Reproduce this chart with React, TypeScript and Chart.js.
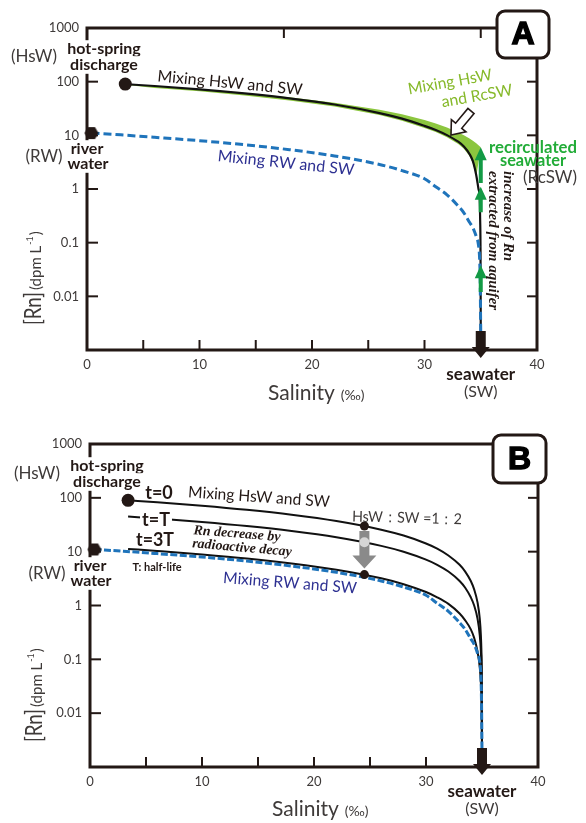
import React, { useEffect, useRef } from 'react';
import { Chart, registerables } from 'chart.js';
Chart.register(...registerables);

// ---------------- data ----------------
const xTickValues = [0, 5, 10, 15, 20, 25, 30, 35, 40];
const yTickValues = [1000, 100, 10, 1, 0.1, 0.01];
const yTickLabels = ['1000', '100', '10', '1', '0.1', '0.01'];
const topTickSalinity = [17.5, 35];

// end members
const hswSalinity = [3.4];
const hswRn = [90];
const rwSalinity = [0.4];
const rwRn = [11];

// mixing HsW and SW
const mixHsWSalinity = [3.4, 6, 10, 14, 18, 22, 26, 28, 30, 31, 32, 33, 33.5, 34, 34.3, 34.6, 34.8, 34.9, 34.95, 34.98, 35];
// panel A curve
const mixHsWRnA = [90, 83, 72, 60.5, 49, 37.5, 26, 20.5, 15, 12.6, 10.1, 7.6, 6.2, 4.5, 3.3, 1.8, 1.0, 0.7, 0.25, 0.07, 0.002];
// panel B: t = 0
const mixHsWRn = [90, 82.6, 71.2, 59.8, 48.4, 37, 25.6, 19.9, 14.2, 11.4, 8.5, 5.7, 4.27, 2.85, 1.99, 1.14, 0.57, 0.28, 0.14, 0.057, 0.002];
// t = T
const mixHalfRn = [45, 41.3, 35.6, 29.9, 24.2, 18.5, 12.8, 9.95, 7.1, 5.7, 4.27, 2.85, 2.14, 1.42, 1.0, 0.57, 0.28, 0.14, 0.07, 0.028, 0.002];
// t = 3T
const mixEighthRn = [11.25, 10.3, 8.9, 7.5, 6.05, 4.63, 3.2, 2.49, 1.78, 1.42, 1.07, 0.71, 0.53, 0.36, 0.25, 0.14, 0.071, 0.036, 0.018, 0.007, 0.002];

// mixing RW and SW
const mixRWSalinity = [0.4, 3, 6, 10, 14, 18, 22, 26, 28, 30, 31, 32, 33, 33.5, 34, 34.3, 34.6, 34.8, 34.9, 34.95, 35];
const mixRWRn = [11, 10.2, 9.2, 7.95, 6.68, 5.4, 4.13, 2.86, 2.2, 1.55, 1.1, 0.78, 0.48, 0.36, 0.24, 0.19, 0.13, 0.09, 0.05, 0.02, 0.002];

// band: mixing HsW and RcSW
const bandUpperSalinity = [3.4, 6, 10, 14, 18, 22, 26, 28, 30, 31, 32, 33, 33.5, 34, 34.3, 34.6, 35];
const bandUpperRn = [90, 83.1, 72.5, 61.8, 51.2, 40.6, 29.9, 24.6, 19.3, 16.6, 14.0, 11.3, 10.0, 8.7, 7.9, 7.1, 6.0];
const bandLowerSalinity = [34.6, 34.3, 34, 33.5, 33, 32, 31, 30, 28, 26, 22, 18, 14, 10, 6, 3.4];
const bandLowerRn = [1.7, 3.0, 4.1, 5.6, 6.9, 9.2, 11.5, 13.7, 18.7, 23.8, 34.3, 44.8, 55.3, 66, 76, 88];

// green arrows (Rn increase near seawater), ranges in dpm/L
const rcswArrowSalinity = 35;
const rcswArrowFrom = [1.3, 0.37, 0.012];
const rcswArrowTo = [6, 1.1, 0.038];

// HsW : SW = 1 : 2
const ratioSalinity = [24.5];
const ratioRnT0 = [30];
const ratioRnT = [15];
const ratioRn3T = [3.75];

const seawaterSalinity = 35;

// ---------------- styles ----------------
const W = 586;
const HA = 410;
const HB = 413;
const AX = '#231815';
const TXT = '#3e3a39';
const BLUE = '#1f74bb';
const NAVY = '#2e3192';
const GREEN_FILL = '#8cc63f';
const GREEN_TXT = '#86b92a';
const GREEN_BRIGHT = '#22ac38';
const GREEN_ARROW = '#139a45';
const FONT = 'Lato, "Open Sans", "Noto Sans", sans-serif';
const SERIF = '"Liberation Serif", "DejaVu Serif", serif';

const pts = (xs: number[], ys: number[]) => xs.map((x, i) => ({ x, y: ys[i] }));

type TO = { size: number; weight?: string; style?: string; family?: string; color?: string; align?: CanvasTextAlign; rot?: number; maxW?: number; bg?: boolean };
function text(ctx: CanvasRenderingContext2D, s: string, x: number, y: number, o: TO) {
  ctx.save();
  ctx.translate(x, y);
  if (o.rot) ctx.rotate((o.rot * Math.PI) / 180);
  ctx.font = `${o.style || 'normal'} ${o.weight || 'normal'} ${o.size}px ${o.family || FONT}`;
  ctx.textAlign = o.align || 'center';
  ctx.textBaseline = 'middle';
  let w = ctx.measureText(s).width;
  if (o.maxW && w > o.maxW) w = o.maxW;
  if (o.bg) {
    const x0 = ctx.textAlign === 'center' ? -w / 2 : ctx.textAlign === 'left' ? 0 : -w;
    ctx.fillStyle = '#fff';
    ctx.fillRect(x0 - 2, -o.size * 0.55, w + 4, o.size * 1.1);
  }
  ctx.fillStyle = o.color || TXT;
  if (o.maxW) ctx.fillText(s, 0, 0, o.maxW);
  else ctx.fillText(s, 0, 0);
  ctx.restore();
}

function arrow(ctx: CanvasRenderingContext2D, x1: number, y1: number, x2: number, y2: number, sw: number, hw: number, hl: number, fill: string, stroke?: string, lw = 1.5) {
  const a = Math.atan2(y2 - y1, x2 - x1);
  const L = Math.hypot(x2 - x1, y2 - y1);
  ctx.save();
  ctx.translate(x1, y1);
  ctx.rotate(a);
  ctx.beginPath();
  ctx.moveTo(0, -sw / 2);
  ctx.lineTo(L - hl, -sw / 2);
  ctx.lineTo(L - hl, -hw / 2);
  ctx.lineTo(L, 0);
  ctx.lineTo(L - hl, hw / 2);
  ctx.lineTo(L - hl, sw / 2);
  ctx.lineTo(0, sw / 2);
  ctx.closePath();
  ctx.fillStyle = fill;
  ctx.fill();
  if (stroke) {
    ctx.strokeStyle = stroke;
    ctx.lineWidth = lw;
    ctx.lineJoin = 'miter';
    ctx.stroke();
  }
  ctx.restore();
}

function yTitle(ctx: CanvasRenderingContext2D, x: number, y: number) {
  ctx.save();
  ctx.translate(x, y);
  ctx.rotate(-Math.PI / 2);
  ctx.textAlign = 'left';
  ctx.textBaseline = 'alphabetic';
  ctx.fillStyle = TXT;
  ctx.font = `23px ${FONT}`;
  ctx.fillText('[Rn]', 0, 0, 33);
  let cx = Math.min(ctx.measureText('[Rn]').width, 33) + 2;
  ctx.font = `15px ${FONT}`;
  ctx.fillText('(dpm L', cx, 0, 64);
  cx += Math.min(ctx.measureText('(dpm L').width, 64) + 1;
  ctx.font = `9px ${FONT}`;
  ctx.fillText('-1', cx, -8);
  cx += ctx.measureText('-1').width + 1;
  ctx.font = `15px ${FONT}`;
  ctx.fillText(')', cx, 0);
  ctx.restore();
}

function salinityTitle(ctx: CanvasRenderingContext2D, x: number, baseY: number) {
  ctx.save();
  ctx.textAlign = 'left';
  ctx.textBaseline = 'alphabetic';
  ctx.fillStyle = TXT;
  ctx.font = `21px ${FONT}`;
  ctx.fillText('Salinity', x, baseY, 71);
  const w = Math.min(ctx.measureText('Salinity').width, 71);
  ctx.font = `14px ${FONT}`;
  ctx.fillText('(‰)', x + w + 6, baseY, 29);
  ctx.restore();
}

function downArrow(ctx: CanvasRenderingContext2D, x: number, top: number, tip: number) {
  arrow(ctx, x, top, x, tip, 10, 18, 11, AX);
}

function makeHexagon(r: number, color: string) {
  const c = document.createElement('canvas');
  const s = Math.ceil(r * 2 + 2);
  c.width = s;
  c.height = s;
  const g = c.getContext('2d')!;
  g.fillStyle = color;
  g.beginPath();
  for (let i = 0; i < 6; i++) {
    const a = (i * Math.PI) / 3;
    const px = s / 2 + r * Math.cos(a);
    const py = s / 2 + r * Math.sin(a);
    if (i === 0) g.moveTo(px, py);
    else g.lineTo(px, py);
  }
  g.closePath();
  g.fill();
  return c;
}

type Area = { left: number; top: number; right: number; bottom: number; h: number };
type PanelCfg = {
  area: Area;
  letter: string;
  box: [number, number, number, number];
  topTicks: number[];
  extra: (ctx: CanvasRenderingContext2D, chart: any, px: (v: number) => number, py: (v: number) => number) => void;
  beforeDataset?: (ctx: CanvasRenderingContext2D, chart: any, label: string, px: (v: number) => number, py: (v: number) => number) => void;
};

function line(ctx: CanvasRenderingContext2D, x1: number, y1: number, x2: number, y2: number) {
  ctx.beginPath();
  ctx.moveTo(x1, y1);
  ctx.lineTo(x2, y2);
  ctx.stroke();
}

function panelPlugin(cfg: PanelCfg) {
  const getPx = (chart: any) => (v: number) => chart.scales.x.getPixelForValue(v);
  const getPy = (chart: any) => (v: number) => chart.scales.y.getPixelForValue(v);
  return {
    id: 'panel' + cfg.letter,
    beforeDatasetsDraw(chart: any) {
      const ctx = chart.ctx as CanvasRenderingContext2D;
      const { left, right, top, bottom } = chart.chartArea;
      const px = getPx(chart);
      const py = getPy(chart);
      ctx.save();
      ctx.strokeStyle = AX;
      ctx.lineWidth = 3;
      ctx.lineCap = 'square';
      ctx.beginPath();
      ctx.moveTo(left, top);
      ctx.lineTo(left, bottom);
      ctx.lineTo(right, bottom);
      ctx.lineTo(right, top);
      ctx.closePath();
      ctx.stroke();
      ctx.lineCap = 'butt';
      ctx.lineWidth = 2;
      for (const v of yTickValues) {
        if (v >= 1000) continue;
        const y = py(v);
        line(ctx, left, y, left + 11, y);
        line(ctx, right - 10, y, right, y);
      }
      for (const v of xTickValues) {
        if (v <= 0 || v >= 40) continue;
        const x = px(v);
        line(ctx, x, bottom, x, bottom - 10);
      }
      for (const v of cfg.topTicks) {
        const x = px(v);
        line(ctx, x, top, x, top + 10);
      }
      ctx.restore();
    },
    beforeDatasetDraw(chart: any, args: any) {
      if (!cfg.beforeDataset) return;
      const label = chart.data.datasets[args.index].label;
      cfg.beforeDataset(chart.ctx, chart, label, getPx(chart), getPy(chart));
    },
    afterDatasetsDraw(chart: any) {
      const ctx = chart.ctx as CanvasRenderingContext2D;
      const px = getPx(chart);
      const py = getPy(chart);
      ctx.save();
      cfg.extra(ctx, chart, px, py);
      // letter box
      const [bx, by, bw, bh] = cfg.box;
      ctx.beginPath();
      (ctx as any).roundRect(bx, by, bw, bh, 8);
      ctx.fillStyle = '#fff';
      ctx.fill();
      ctx.strokeStyle = AX;
      ctx.lineWidth = 3;
      ctx.stroke();
      ctx.font = `bold 32px "Liberation Sans", Arial, sans-serif`;
      ctx.textAlign = 'center';
      ctx.textBaseline = 'middle';
      ctx.fillStyle = '#000';
      ctx.strokeStyle = '#000';
      ctx.lineWidth = 1.4;
      ctx.fillText(cfg.letter, bx + bw / 2, by + bh / 2 + 1);
      ctx.strokeText(cfg.letter, bx + bw / 2, by + bh / 2 + 1);
      ctx.restore();
    },
  };
}

function scalesFor(area: Area) {
  return {
    x: {
      type: 'linear',
      min: 0,
      max: 40,
      afterBuildTicks: (s: any) => {
        s.ticks = xTickValues.map((v) => ({ value: v }));
      },
      afterFit: (s: any) => {
        s.height = area.h - area.bottom;
      },
      ticks: {
        autoSkip: false,
        maxRotation: 0,
        padding: 7,
        color: TXT,
        font: { family: FONT, size: 13 },
        callback: (v: number) => (v % 10 === 0 ? String(v) : ''),
      },
      grid: { display: false, drawTicks: false },
      border: { display: false },
    },
    y: {
      type: 'logarithmic',
      min: 0.001,
      max: 1000,
      afterBuildTicks: (s: any) => {
        s.ticks = yTickValues.map((v) => ({ value: v }));
      },
      afterFit: (s: any) => {
        s.width = area.left;
      },
      ticks: {
        autoSkip: false,
        padding: 8,
        color: TXT,
        font: { family: FONT, size: 13 },
        callback: (v: number) => {
          const i = yTickValues.indexOf(v);
          return i >= 0 ? yTickLabels[i] : '';
        },
      },
      grid: { display: false, drawTicks: false },
      border: { display: false },
    },
  };
}

function baseOptions(area: Area) {
  return {
    responsive: false,
    animation: false,
    devicePixelRatio: 1,
    events: [],
    layout: { autoPadding: false, padding: { left: 0, top: area.top, right: W - area.right, bottom: 0 } },
    plugins: { legend: { display: false }, tooltip: { enabled: false } },
    scales: scalesFor(area),
  };
}

function curve(label: string, data: any[], color: string, width: number, order: number, dash?: number[]) {
  return {
    label,
    data,
    borderColor: color,
    borderWidth: width,
    borderDash: dash || [],
    pointRadius: 0,
    cubicInterpolationMode: 'monotone',
    fill: false,
    order,
  };
}

function dot(label: string, data: any[], color: string, r: number, order: number, style?: any) {
  return {
    label,
    data,
    showLine: false,
    pointRadius: r,
    pointStyle: style || 'circle',
    pointBackgroundColor: color,
    pointBorderColor: color,
    pointBorderWidth: 0,
    clip: false,
    order,
  };
}

function endMemberLabels(ctx: CanvasRenderingContext2D, dx: number, dy: number) {
  text(ctx, '(HsW)', 34 + dx, 57 + dy, { size: 17, maxW: 46 });
  text(ctx, 'hot-spring', 104 + dx, 49 + dy, { size: 16, weight: 'bold', color: AX, maxW: 76, bg: true });
  text(ctx, 'discharge', 104 + dx, 65 + dy, { size: 16, weight: 'bold', color: AX, maxW: 71, bg: true });
  text(ctx, '(RW)', 44 + dx, 157 + dy, { size: 17, maxW: 37 });
  text(ctx, 'river', 87 + dx, 149 + dy, { size: 16, weight: 'bold', color: AX, maxW: 36, bg: true });
  text(ctx, 'water', 88 + dx, 164 + dy, { size: 16, weight: 'bold', color: AX, maxW: 43, bg: true });
}

// ---------------- panel A ----------------
const areaA: Area = { left: 87, top: 28, right: 537, bottom: 350, h: HA };
function configA() {
  const hex = makeHexagon(7, AX);
  const band = [...pts(bandUpperSalinity, bandUpperRn), ...pts(bandLowerSalinity, bandLowerRn)];
  const plugin = panelPlugin({
    area: areaA,
    letter: 'A',
    box: [497, 11, 52, 47],
    topTicks: topTickSalinity,
    extra: (ctx, chart, px, py) => {
      const ca = chart.chartArea;
      for (let i = 0; i < rcswArrowFrom.length; i++) {
        arrow(ctx, px(rcswArrowSalinity), py(rcswArrowFrom[i]), px(rcswArrowSalinity), py(rcswArrowTo[i]), 4, 12, 13, GREEN_ARROW);
      }
      downArrow(ctx, px(seawaterSalinity), ca.bottom - 19, ca.bottom + 8);
      endMemberLabels(ctx, 0, 0);
      text(ctx, 'Mixing HsW and SW', 230, 83, { size: 16, color: AX, rot: 5.5, maxW: 146 });
      text(ctx, 'Mixing RW and SW', 286, 163, { size: 16, color: NAVY, rot: 6, maxW: 138 });
      text(ctx, 'Mixing HsW', 450, 82, { size: 16, color: GREEN_TXT, rot: -10, maxW: 85 });
      text(ctx, 'and RcSW', 477, 96, { size: 16, color: GREEN_TXT, rot: -10, maxW: 72 });
      arrow(ctx, 471, 111, 451, 135, 8, 19, 12, '#fff', AX, 1.6);
      text(ctx, 'recirculated', 533, 148, { size: 17, weight: 'bold', color: GREEN_BRIGHT, maxW: 88 });
      text(ctx, 'seawater', 533, 161, { size: 17, weight: 'bold', color: GREEN_BRIGHT, maxW: 66 });
      text(ctx, '(RcSW)', 550, 178, { size: 17, maxW: 56 });
      ctx.save();
      ctx.translate(508, 171);
      ctx.rotate(Math.PI / 2);
      ctx.font = `italic bold 15px ${SERIF}`;
      ctx.textAlign = 'left';
      ctx.textBaseline = 'middle';
      ctx.fillStyle = AX;
      ctx.fillText('increase of Rn', 0, 0, 99);
      ctx.fillText('extracted from aquifer', 0, 15, 160);
      ctx.restore();
      text(ctx, 'seawater', px(seawaterSalinity), 375, { size: 17, weight: 'bold', color: AX, maxW: 78 });
      text(ctx, '(SW)', px(seawaterSalinity), 392, { size: 16, maxW: 34 });
      salinityTitle(ctx, 268, 400);
      yTitle(ctx, 41, 325);
    },
  });
  return {
    type: 'line',
    data: {
      datasets: [
        dot('hsw', pts(hswSalinity, hswRn), AX, 6.5, 0),
        dot('rw', pts(rwSalinity, rwRn), AX, 7, 0, hex),
        curve('RW-SW', pts(mixRWSalinity, mixRWRn), BLUE, 3, 1, [8, 4]),
        curve('HsW-SW', pts(mixHsWSalinity, mixHsWRnA), '#111', 2.2, 2),
        {
          label: 'HsW-RcSW',
          data: band,
          borderWidth: 0,
          borderColor: GREEN_FILL,
          backgroundColor: GREEN_FILL,
          fill: 'shape',
          pointRadius: 0,
          tension: 0,
          order: 3,
        },
      ],
    },
    options: baseOptions(areaA),
    plugins: [plugin],
  };
}

// ---------------- panel B ----------------
const areaB: Area = { left: 90, top: 34, right: 538, bottom: 357, h: HB };
function configB() {
  const hex = makeHexagon(7, AX);
  const plugin = panelPlugin({
    area: areaB,
    letter: 'B',
    box: [493, 25, 53, 48],
    topTicks: [],
    beforeDataset: (ctx, chart, label, px, py) => {
      if (label !== 'ratioT') return;
      ctx.save();
      arrow(ctx, px(ratioSalinity[0]), py(ratioRnT0[0]) + 5, px(ratioSalinity[0]), py(ratioRn3T[0]) - 6, 10, 24, 13, '#8a8a8a');
      ctx.restore();
    },
    extra: (ctx, chart, px, py) => {
      const ca = chart.chartArea;
      downArrow(ctx, px(seawaterSalinity), ca.bottom - 19, ca.bottom + 8);
      endMemberLabels(ctx, 3, 7);
      text(ctx, 't=0', 159, 83, { size: 18, weight: 'bold', color: AX, maxW: 29 });
      text(ctx, 't=T', 156, 110, { size: 18, weight: 'bold', color: AX, maxW: 32, bg: true });
      text(ctx, 't=3T', 155, 130, { size: 18, weight: 'bold', color: AX, maxW: 38 });
      text(ctx, 'T: half-life', 157, 157, { size: 11, weight: 'bold', color: AX, maxW: 56 });
      text(ctx, 'Rn decrease by', 237, 124, { size: 14, weight: 'bold', style: 'italic', family: SERIF, color: AX, rot: 4.5, maxW: 98 });
      text(ctx, 'radioactive decay', 242, 138, { size: 14, weight: 'bold', style: 'italic', family: SERIF, color: AX, rot: 5, maxW: 111 });
      text(ctx, 'Mixing HsW and SW', 259, 87, { size: 16, color: AX, rot: 4, maxW: 142 });
      text(ctx, 'Mixing RW and SW', 290, 173, { size: 16, color: NAVY, rot: 4.5, maxW: 134 });
      text(ctx, 'HsW：SW =1：2', 407, 108, { size: 15, color: TXT, rot: 1.5, maxW: 110 });
      text(ctx, 'seawater', px(seawaterSalinity), 382, { size: 17, weight: 'bold', color: AX, maxW: 79 });
      text(ctx, '(SW)', px(seawaterSalinity), 399, { size: 16, maxW: 34 });
      salinityTitle(ctx, 272, 406);
      yTitle(ctx, 42, 332);
    },
  });
  return {
    type: 'line',
    data: {
      datasets: [
        dot('ratio', [...pts(ratioSalinity, ratioRnT0), ...pts(ratioSalinity, ratioRn3T)], AX, 4.5, 0),
        dot('ratioT', pts(ratioSalinity, ratioRnT), '#d6d6d6', 5, 1),
        dot('hsw', pts(hswSalinity, hswRn), AX, 6.5, 0),
        dot('rw', pts(rwSalinity, rwRn), AX, 7, 0, hex),
        curve('RW-SW', pts(mixRWSalinity, mixRWRn), BLUE, 3, 3, [7, 2.5]),
        curve('t=3T', pts(mixHsWSalinity, mixEighthRn), '#111', 2, 4),
        curve('t=T', pts(mixHsWSalinity, mixHalfRn), '#111', 2, 4),
        curve('t=0', pts(mixHsWSalinity, mixHsWRn), '#111', 2, 4),
      ],
    },
    options: baseOptions(areaB),
    plugins: [plugin],
  };
}

export default function App() {
  const refA = useRef<HTMLCanvasElement>(null);
  const refB = useRef<HTMLCanvasElement>(null);
  useEffect(() => {
    const a = new Chart(refA.current as HTMLCanvasElement, configA() as any);
    const b = new Chart(refB.current as HTMLCanvasElement, configB() as any);
    return () => {
      a.destroy();
      b.destroy();
    };
  }, []);
  return (
    <div style={{ position: 'absolute', left: 0, top: 0, width: W, height: HA + HB, background: '#fff' }}>
      <canvas ref={refA} width={W} height={HA} style={{ position: 'absolute', left: 0, top: 0, width: W, height: HA }} />
      <canvas ref={refB} width={W} height={HB} style={{ position: 'absolute', left: 0, top: HA, width: W, height: HB }} />
    </div>
  );
}
